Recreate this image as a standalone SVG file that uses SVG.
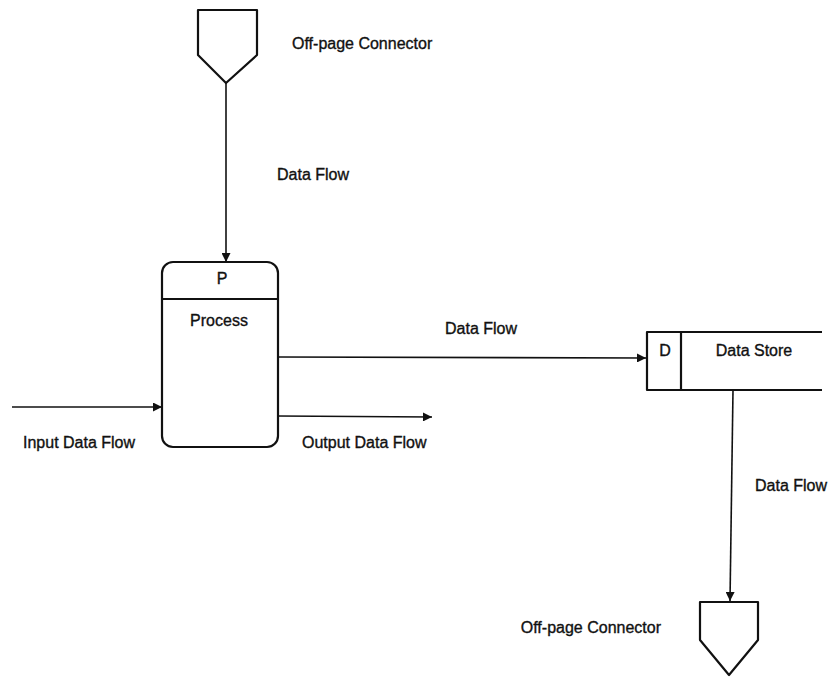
<svg xmlns="http://www.w3.org/2000/svg" width="835" height="677" viewBox="0 0 835 677">
<style>
  .shape { fill: none; stroke: #111; stroke-width: 2.2; stroke-linejoin: round; }
  .flow { fill: none; stroke: #111; stroke-width: 1.6; }
  .lbl { font-family: "Liberation Sans", Arial, sans-serif; font-size: 16px; fill: #111; stroke: #111; stroke-width: 0.35; }
</style>
<defs>
  <marker id="arr" viewBox="0 0 10 10" refX="10" refY="5" markerWidth="11" markerHeight="9" markerUnits="userSpaceOnUse" orient="auto">
    <path d="M0,0 L10,5 L0,10 Z" fill="#111"/>
  </marker>
</defs>
<rect width="835" height="677" fill="#fff"/>

<g id="connectors">
  <line class="flow" x1="226" y1="83" x2="226" y2="262" marker-end="url(#arr)"/>
  <line class="flow" x1="278" y1="357" x2="646" y2="358" marker-end="url(#arr)"/>
  <line class="flow" x1="12" y1="407" x2="162" y2="407" marker-end="url(#arr)"/>
  <line class="flow" x1="278" y1="416" x2="432" y2="417" marker-end="url(#arr)"/>
  <line class="flow" x1="733" y1="390" x2="730" y2="601" marker-end="url(#arr)"/>
  <text class="lbl" x="277" y="180">Data Flow</text>
  <text class="lbl" x="445" y="334">Data Flow</text>
  <text class="lbl" x="23" y="448">Input Data Flow</text>
  <text class="lbl" x="302" y="448">Output Data Flow</text>
  <text class="lbl" x="755" y="491">Data Flow</text>
</g>

<g id="offpage-top">
  <path class="shape" d="M198,10 L257,10 L257,55 L226,83 L198,55 Z"/>
  <text class="lbl" x="292" y="49">Off-page Connector</text>
</g>

<g id="process">
  <rect class="shape" x="162" y="262" width="116" height="185" rx="11"/>
  <line class="shape" x1="162" y1="299" x2="278" y2="299"/>
  <text class="lbl" x="222" y="284" text-anchor="middle">P</text>
  <text class="lbl" x="219" y="326" text-anchor="middle">Process</text>
</g>

<g id="datastore">
  <path class="shape" d="M822,332 L647,332 L647,390 L822,390"/>
  <line class="shape" x1="681" y1="332" x2="681" y2="390"/>
  <text class="lbl" x="665" y="356" text-anchor="middle">D</text>
  <text class="lbl" x="754" y="356" text-anchor="middle">Data Store</text>
</g>

<g id="offpage-bottom">
  <path class="shape" d="M700,602 L758,602 L758,640 L729,675 L700,640 Z"/>
  <text class="lbl" x="661" y="633" text-anchor="end">Off-page Connector</text>
</g>
</svg>
